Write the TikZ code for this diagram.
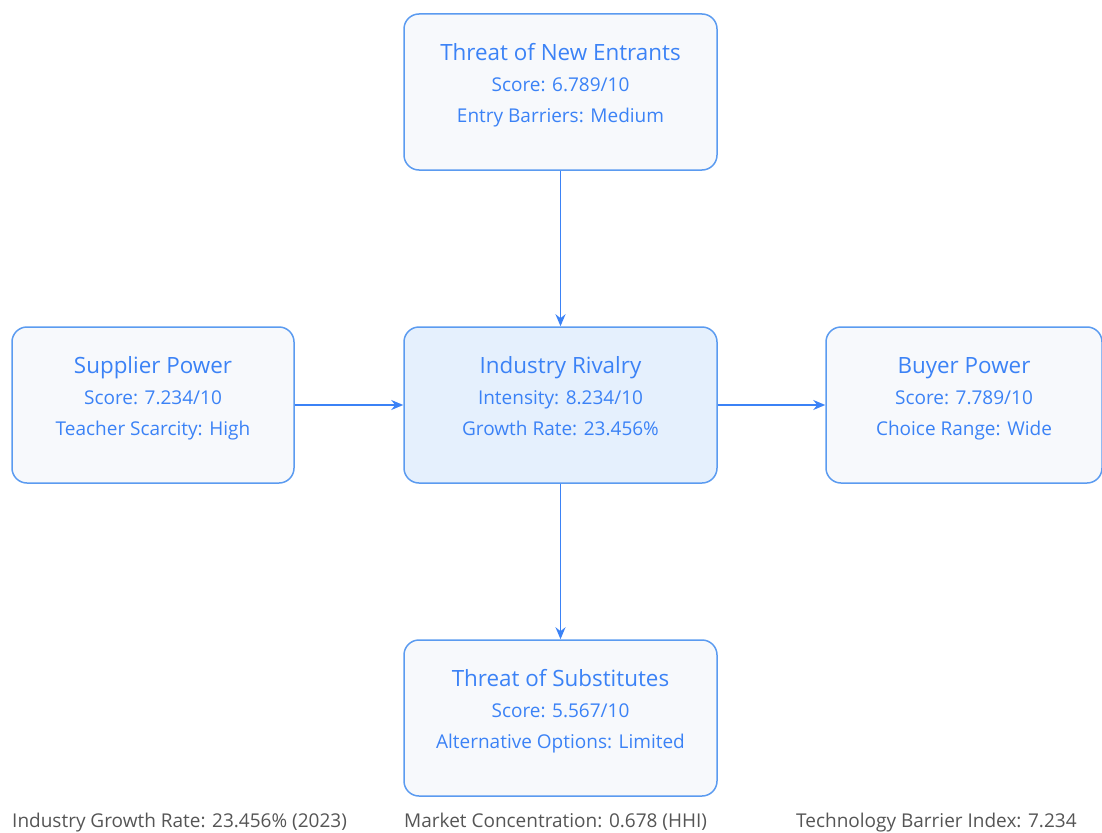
\documentclass[tikz,border=0pt]{standalone}
\usepackage{fontspec}
\setmainfont{Open Sans}
\usetikzlibrary{arrows.meta}
\definecolor{forceblue}{HTML}{3B82F6}
\definecolor{boxline}{HTML}{5B9BF0}
\definecolor{boxfill}{HTML}{F7F9FC}
\definecolor{corefill}{HTML}{E5F0FD}
\definecolor{notegray}{HTML}{555555}
\tikzset{
  force/.style={draw=boxline, line width=1.5pt, fill=boxfill, rounded corners=15pt,
    minimum height=156pt, inner sep=0pt, align=center, text=forceblue},
  wide/.style={minimum width=313pt},
  side/.style={minimum width=282pt},
  core/.style={fill=corefill},
  link/.style={draw=forceblue, line width=1.5pt, -{Stealth[length=12pt,width=10pt]}},
  note/.style={text=notegray, font=\fontsize{19}{22}\selectfont, anchor=base west, inner sep=0pt}
}
% three centred lines with a fixed 31pt baseline pitch; the last row carries
% extra depth so the block sits a little above the box centre
\newcommand{\forcetext}[3]{\vbox{\offinterlineskip\halign{\hfil##\hfil\cr
  \rule[-8pt]{0pt}{31pt}\smash{\fontsize{22.4}{26}\selectfont #1}\cr
  \rule[-8pt]{0pt}{31pt}\smash{\fontsize{19}{22}\selectfont #2}\cr
  \rule[-25pt]{0pt}{48pt}\smash{\fontsize{19}{22}\selectfont #3}\cr}}}
\begin{document}
\begin{tikzpicture}[x=1pt,y=-1pt]
  \useasboundingbox (0,0) rectangle (1102,832);
  \begin{scope}
    \clip (0,0) rectangle (1102,832);
    \node[force,wide] (entrants) at (560.5,92) {\forcetext{Threat of New Entrants}{Score: 6.789/10}{Entry Barriers: Medium}};
    \node[force,side] (supplier) at (153,405) {\forcetext{Supplier Power}{Score: 7.234/10}{Teacher Scarcity: High}};
    \node[force,wide,core] (rivalry) at (560.5,405) {\forcetext{Industry Rivalry}{Intensity: 8.234/10}{Growth Rate: 23.456\%}};
    \node[force,minimum width=276pt] (buyer) at (964,405) {\forcetext{Buyer Power}{Score: 7.789/10}{Choice Range: Wide}};
    \node[force,wide] (substitutes) at (560.5,718) {\forcetext{Threat of Substitutes}{Score: 5.567/10}{Alternative Options: Limited}};
  \end{scope}
  \draw[link] (entrants) -- (rivalry);
  \draw[link] (supplier) -- (rivalry);
  \draw[link] (rivalry) -- (buyer);
  \draw[link] (rivalry) -- (substitutes);
  \node[note] (growth) at (12,827) {Industry Growth Rate: 23.456\% (2023)};
  \node[note] (hhi) at (404,827) {Market Concentration: 0.678 (HHI)};
  \node[note] (tech) at (796,827) {Technology Barrier Index: 7.234};
\end{tikzpicture}
\end{document}
